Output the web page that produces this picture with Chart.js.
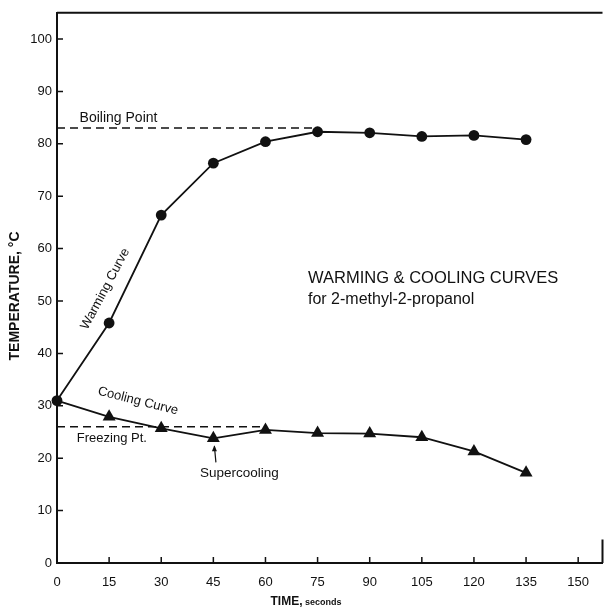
<!DOCTYPE html>
<html>
<head>
<meta charset="utf-8">
<script src="https://cdn.jsdelivr.net/npm/chart.js@4.4.1/dist/chart.umd.min.js"></script>
<style>
  html, body { margin: 0; padding: 0; background: #fff; }
  #wrap { width: 610px; height: 607px; }
</style>
</head>
<body>
<div id="wrap"><canvas id="curves"></canvas></div>
<script>
// time in seconds, temperature in °C
const times = [0, 15, 30, 45, 60, 75, 90, 105, 120, 135];
const warming = [31, 45.8, 66.4, 76.3, 80.4, 82.3, 82.1, 81.4, 81.6, 80.8];
const cooling = [31, 27.9, 25.7, 23.8, 25.4, 24.8, 24.7, 24.0, 21.3, 17.2];
const boilingPoint = [83, 83];
const boilingTimes = [0, 75];
const freezingPoint = [26, 26];
const freezingTimes = [0, 60];
const xTicks = [0, 15, 30, 45, 60, 75, 90, 105, 120, 135, 150];
const yTicks = [0, 10, 20, 30, 40, 50, 60, 70, 80, 90, 100];

const ink = '#111';
const font = '"Liberation Sans", Arial, sans-serif';

const toPoints = (xs, ys) => xs.map((t, i) => ({ x: t, y: ys[i] }));

function text(ctx, str, x, y, size, opts = {}) {
    ctx.save();
    ctx.translate(x, y);
    if (opts.angle) ctx.rotate(opts.angle * Math.PI / 180);
    ctx.font = (opts.bold ? 'bold ' : '') + size + 'px ' + font;
    ctx.fillStyle = ink;
    ctx.textAlign = opts.align || 'center';
    ctx.textBaseline = 'middle';
    ctx.fillText(str, 0, 0);
    ctx.restore();
}

// frame, inward ticks and the hand-lettered labels
const decorations = {
    id: 'decorations',
    afterDraw(chart) {
        const { ctx, chartArea: a, scales: { x, y } } = chart;
        ctx.save();
        ctx.strokeStyle = ink;
        ctx.lineWidth = 2;
        ctx.beginPath();
        ctx.moveTo(a.left, a.top);
        ctx.lineTo(a.right, a.top);
        ctx.moveTo(a.right, y.getPixelForValue(4.5));
        ctx.lineTo(a.right, a.bottom);
        ctx.stroke();

        ctx.lineWidth = 1.5;
        ctx.beginPath();
        xTicks.forEach(v => {
            const px = x.getPixelForValue(v);
            ctx.moveTo(px, a.bottom);
            ctx.lineTo(px, a.bottom - 6);
        });
        yTicks.forEach(v => {
            const py = y.getPixelForValue(v);
            ctx.moveTo(a.left, py);
            ctx.lineTo(a.left + 6, py);
        });
        ctx.stroke();

        text(ctx, 'Boiling Point', x.getPixelForValue(6.5), y.getPixelForValue(84.9), 14, { align: 'left' });
        text(ctx, 'Warming Curve', x.getPixelForValue(13.9), y.getPixelForValue(52.3), 13, { angle: -62 });
        text(ctx, 'Cooling Curve', x.getPixelForValue(23.3), y.getPixelForValue(30.9), 13, { angle: 14 });
        text(ctx, 'Freezing Pt.', x.getPixelForValue(5.7), y.getPixelForValue(23.7), 13, { align: 'left' });
        text(ctx, 'Supercooling', x.getPixelForValue(52.5), y.getPixelForValue(17.2), 13.5);

        // little arrow pointing at the supercooling minimum
        const ax = x.getPixelForValue(45.3), ay0 = y.getPixelForValue(19.2), ay1 = y.getPixelForValue(22.3);
        ctx.lineWidth = 1.2;
        ctx.beginPath();
        ctx.moveTo(ax + 1.5, ay0);
        ctx.lineTo(ax, ay1);
        ctx.stroke();
        ctx.beginPath();
        ctx.moveTo(ax, ay1 - 1);
        ctx.lineTo(ax - 2.5, ay1 + 5);
        ctx.lineTo(ax + 2.5, ay1 + 5);
        ctx.closePath();
        ctx.fillStyle = ink;
        ctx.fill();

        text(ctx, 'WARMING & COOLING CURVES', 308, 278, 16.5, { align: 'left' });
        text(ctx, 'for 2-methyl-2-propanol', 308, 300, 16, { align: 'left' });

        text(ctx, 'TEMPERATURE, °C', 15, 296, 14, { bold: true, angle: -90 });

        // axis title with mixed sizes
        ctx.font = 'bold 12px ' + font;
        const w1 = ctx.measureText('TIME,').width;
        ctx.font = 'bold 9px ' + font;
        const w2 = ctx.measureText(' seconds').width;
        const start = 306 - (w1 + w2) / 2;
        ctx.textBaseline = 'alphabetic';
        ctx.fillStyle = ink;
        ctx.textAlign = 'left';
        ctx.font = 'bold 12px ' + font;
        ctx.fillText('TIME,', start, 605);
        ctx.font = 'bold 9px ' + font;
        ctx.fillText(' seconds', start + w1, 605);
        ctx.restore();
    }
};

const dashed = { borderColor: ink, borderWidth: 1.5, borderDash: [8, 5], pointRadius: 0, fill: false };

new Chart(document.getElementById('curves'), {
    type: 'line',
    data: {
        datasets: [
            {
                label: 'Boiling Point',
                data: toPoints(boilingTimes, boilingPoint),
                ...dashed
            },
            {
                label: 'Freezing Pt.',
                data: toPoints(freezingTimes, freezingPoint),
                ...dashed
            },
            {
                label: 'Cooling Curve',
                data: toPoints(times, cooling),
                borderColor: ink,
                borderWidth: 1.8,
                pointStyle: 'triangle',
                pointRadius: times.map((t, i) => i === 0 ? 0 : 7.5),
                pointBackgroundColor: ink,
                pointBorderColor: ink,
                pointBorderWidth: 0,
                fill: false,
                clip: false,
                tension: 0
            },
            {
                label: 'Warming Curve',
                data: toPoints(times, warming),
                borderColor: ink,
                borderWidth: 1.8,
                pointStyle: 'circle',
                pointRadius: 5.4,
                pointBackgroundColor: ink,
                pointBorderColor: ink,
                pointBorderWidth: 0,
                fill: false,
                clip: false,
                tension: 0
            }
        ]
    },
    options: {
        responsive: true,
        maintainAspectRatio: false,
        animation: false,
        events: [],
        layout: { padding: { top: 10, right: 2, left: 0, bottom: 0 } },
        plugins: {
            legend: { display: false },
            tooltip: { enabled: false }
        },
        scales: {
            x: {
                type: 'linear',
                min: 0,
                max: 157,
                afterBuildTicks: scale => { scale.ticks = xTicks.map(v => ({ value: v })); },
                afterFit: scale => { scale.height = 44; },
                grid: { display: false, drawTicks: false },
                border: { display: true, color: ink, width: 2 },
                ticks: {
                    color: ink,
                    padding: 12,
                    maxRotation: 0,
                    autoSkip: false,
                    font: { family: font, size: 13 }
                }
            },
            y: {
                type: 'linear',
                min: 0,
                max: 105,
                afterBuildTicks: scale => { scale.ticks = yTicks.map(v => ({ value: v })); },
                afterFit: scale => { scale.width = 57; },
                grid: { display: false, drawTicks: false },
                border: { display: true, color: ink, width: 2 },
                ticks: {
                    color: ink,
                    padding: 5,
                    autoSkip: false,
                    font: { family: font, size: 13 }
                }
            }
        }
    },
    plugins: [decorations]
});
</script>
</body>
</html>
